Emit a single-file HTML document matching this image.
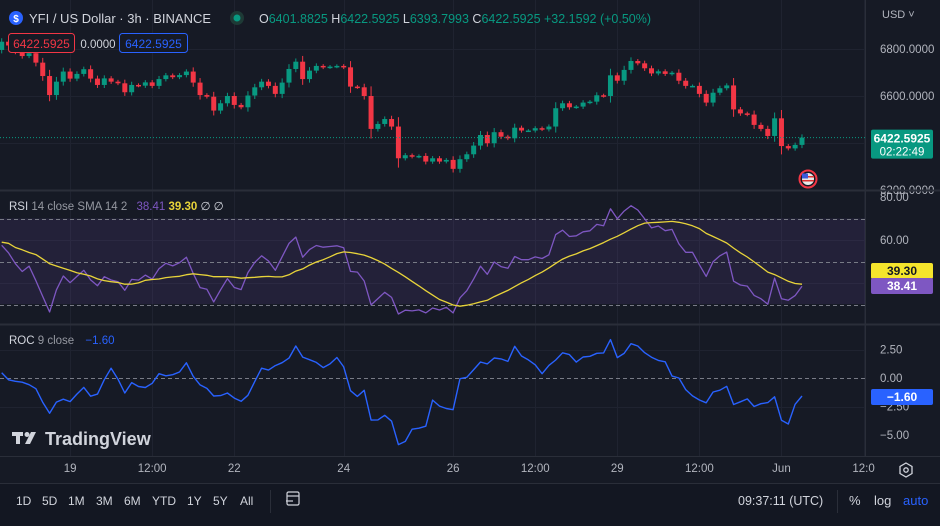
<!DOCTYPE html>
<html><head><meta charset="utf-8">
<style>
*{margin:0;padding:0;box-sizing:border-box}
body{width:940px;height:521px;background:#131722;overflow:hidden;font-family:"Liberation Sans",sans-serif;position:relative}
svg text{font-family:"Liberation Sans",sans-serif}
</style></head>
<body>
<svg id="chart" width="940" height="521" viewBox="0 0 940 521" xmlns="http://www.w3.org/2000/svg">
<rect x="0" y="0" width="940" height="521" fill="#161a25"/>
<g id="grid"></g>
<rect x="0" y="218.5" width="865" height="85.5" fill="#7e57c2" opacity="0.13"/>
<g id="bands"></g>
<g id="candles"></g>
<g id="rsi"></g>
<g id="roc"></g>
<g id="axes"></g>
<line x1="0" y1="190.5" x2="940" y2="190.5" stroke="#2a2e39" stroke-width="2"/>
<line x1="0" y1="324.5" x2="940" y2="324.5" stroke="#2a2e39" stroke-width="2"/>
<line x1="0" y1="456.5" x2="940" y2="456.5" stroke="#2a2e39"/>
<line x1="865.5" y1="0" x2="865.5" y2="456" stroke="#2a2e39"/>
<rect x="0" y="483" width="940" height="38" fill="#131722"/>
<line x1="0" y1="483.5" x2="940" y2="483.5" stroke="#2a2e39"/>

<g>
<circle cx="16" cy="18" r="7" fill="#2962ff"/>
<text x="16" y="22" font-size="10" fill="#fff" text-anchor="middle" font-weight="bold">$</text>
<text x="29" y="23" font-size="13" fill="#d1d4dc">YFI / US Dollar · 3h · BINANCE</text>
<circle cx="237" cy="18" r="7" fill="#1e3a36"/><circle cx="237" cy="18" r="3.5" fill="#089981"/>
<text x="259" y="23" font-size="12.5" fill="#089981"><tspan fill="#d1d4dc">O</tspan>6401.8825 <tspan fill="#d1d4dc">H</tspan>6422.5925 <tspan fill="#d1d4dc">L</tspan>6393.7993 <tspan fill="#d1d4dc">C</tspan>6422.5925 +32.1592 (+0.50%)</text>
<rect x="8.5" y="33.5" width="66" height="19" rx="3" fill="#161a25" stroke="#f23645"/>
<text x="41.5" y="48" font-size="12" fill="#f23645" text-anchor="middle">6422.5925</text>
<text x="98" y="48" font-size="11.5" fill="#d1d4dc" text-anchor="middle">0.0000</text>
<rect x="119.5" y="33.5" width="68" height="19" rx="3" fill="#161a25" stroke="#2962ff"/>
<text x="153.5" y="48" font-size="12" fill="#2962ff" text-anchor="middle">6422.5925</text>
</g>
<text x="882" y="18" font-size="11" fill="#b2b5be">USD ˅</text>

<text x="9" y="210" font-size="11.5" fill="#d1d4dc">RSI <tspan fill="#9598a1">14 close SMA 14 2</tspan> <tspan fill="#7e57c2" dx="6">38.41</tspan> <tspan fill="#e8d43a" font-weight="bold">39.30</tspan> <tspan fill="#d1d4dc">∅ ∅</tspan></text>
<text x="9" y="344" font-size="11.5" fill="#d1d4dc">ROC <tspan fill="#9598a1">9 close</tspan> <tspan fill="#2962ff" dx="8">−1.60</tspan></text>

<g>
<rect x="12" y="432" width="11" height="4" fill="#d1d4dc"/><rect x="16" y="432" width="4" height="12" fill="#d1d4dc"/>
<circle cx="27" cy="434.5" r="2.5" fill="#d1d4dc"/><polygon points="31,432 36,432 30,444 25,444" fill="#d1d4dc"/>
<text x="45" y="445" font-size="18" fill="#d1d4dc" font-weight="bold">TradingView</text>
</g>

<g>
<circle cx="808" cy="179" r="8.5" fill="#161a25" stroke="#f23645" stroke-width="2"/>
<circle cx="808" cy="179" r="6" fill="#e8e8e8"/>
<rect x="802" y="176" width="12" height="1.5" fill="#d33"/><rect x="802" y="180" width="12" height="1.5" fill="#d33"/>
<rect x="802" y="173.5" width="6" height="5" fill="#3b5bdb"/>
</g>

<g font-size="12" fill="#d1d4dc">
<text x="16" y="505">1D</text>
<text x="42" y="505">5D</text>
<text x="68" y="505">1M</text>
<text x="96" y="505">3M</text>
<text x="124" y="505">6M</text>
<text x="152" y="505">YTD</text>
<text x="187" y="505">1Y</text>
<text x="213" y="505">5Y</text>
<text x="240" y="505">All</text>
</g>
<line x1="270.5" y1="490" x2="270.5" y2="513" stroke="#2a2e39"/>
<g stroke="#d1d4dc" fill="none" stroke-width="1.2">
<rect x="287" y="492" width="12" height="13" rx="1.5"/><line x1="287" y1="496" x2="299" y2="496"/><line x1="286" y1="501" x2="293" y2="501"/>
</g>
<text x="738" y="505" font-size="12.5" fill="#d1d4dc">09:37:11 (UTC)</text>
<line x1="837.5" y1="490" x2="837.5" y2="513" stroke="#2a2e39"/>
<text x="849" y="505" font-size="13" fill="#d1d4dc">%</text>
<text x="874" y="505" font-size="13" fill="#d1d4dc">log</text>
<text x="903" y="505" font-size="13" fill="#2962ff">auto</text>
<g><polygon points="906,463 912,466.5 912,473.5 906,477 900,473.5 900,466.5" fill="none" stroke="#d1d4dc" stroke-width="1.3"/><circle cx="906" cy="470" r="2.2" fill="none" stroke="#d1d4dc" stroke-width="1.3"/></g>
<g id="labels"></g>
</svg>
<script>
const NS='http://www.w3.org/2000/svg';
// ---- data ----
const preCloses=[6790,6812,6798,6822,6805,6818,6800,6826,6810,6795,6822,6806,6830,6815,6805];
const firstOpen=6796;
const closes=[6831,6815,6790,6770,6782,6742,6685,6604,6661,6704,6674,6694,6714,6674,6647,6675,6661,6654,6616,6647,6644,6658,6643,6672,6688,6680,6689,6704,6657,6604,6597,6538,6569,6600,6562,6552,6602,6637,6661,6643,6609,6657,6715,6746,6672,6708,6728,6722,6725,6728,6722,6640,6637,6600,6460,6481,6502,6470,6335,6348,6342,6345,6321,6335,6321,6328,6290,6331,6352,6389,6434,6399,6446,6427,6420,6465,6453,6453,6463,6458,6470,6548,6569,6552,6555,6572,6576,6603,6600,6688,6665,6711,6749,6739,6718,6696,6705,6694,6699,6665,6643,6643,6609,6572,6614,6633,6645,6543,6526,6521,6477,6460,6430,6505,6387,6377,6392,6423];
const timeLabels=['19','12:00','22','24','26','12:00','29','12:00','Jun','12:0'];
const timeLabelIdx=[10,22,34,50,66,78,90,102,114,126];
const priceTicks=[6800,6600,6200];
const priceTickLabels=['6800.0000','6600.0000','6200.0000'];
const rsiTicks=[80,60];
const rocTicks=[2.5,0,-2.5,-5];
const rocTickLabels=['2.50','0.00','−2.50','−5.00'];
// ---- axes ----
const X0=1.7, DX=6.84;
const xAt=i=>X0+i*DX;
const yPrice=p=>49+(6800-p)*47/200;
const yRsi=v=>197+(80-v)*2.15;
const yRoc=v=>378-v*11.4;
function el(tag,attrs,parent){const e=document.createElementNS(NS,tag);for(const k in attrs)e.setAttribute(k,attrs[k]);parent.appendChild(e);return e;}
const G=id=>document.getElementById(id);
const grid=G('grid');
timeLabelIdx.forEach(i=>{const x=Math.round(xAt(i))+0.5;const l=el('line',{x1:x,y1:0,x2:x,y2:456,stroke:'#1f2330'},grid);

});
[6800,6600,6400].forEach(p=>{const y=Math.round(yPrice(p))+0.5;const l=el('line',{x1:0,y1:y,x2:865,y2:y,stroke:'#1f2330'},grid);

});
[60,40].forEach(v=>{const y=Math.round(yRsi(v))+0.5;el('line',{x1:0,y1:y,x2:865,y2:y,stroke:'#1f2330'},grid);});
[2.5,-2.5].forEach(v=>{const y=Math.round(yRoc(v))+0.5;el('line',{x1:0,y1:y,x2:865,y2:y,stroke:'#1f2330'},grid);});
const bands=G('bands');
[70,50,30].forEach(v=>{const y=Math.round(yRsi(v))+0.5;const l=el('line',{x1:0,y1:y,x2:865,y2:y,stroke:'#787b86','stroke-dasharray':'4 3'},bands);

});
{const y=Math.round(yRoc(0))+0.5;const l=el('line',{x1:0,y1:y,x2:865,y2:y,stroke:'#787b86','stroke-dasharray':'4 3'},bands);

}
// candles
const cg=G('candles');
closes.forEach((c,i)=>{const o=i===0?firstOpen:closes[i-1];const up=c>=o;const col=up?'#089981':'#f23645';const x=xAt(i);
const span=Math.abs(c-o);
const hi=Math.max(o,c)+6+span*0.25, lo=Math.min(o,c)-6-span*0.25;
const w=el('line',{x1:x,y1:yPrice(hi),x2:x,y2:yPrice(lo),stroke:col,'stroke-width':1},cg);


const yt=yPrice(Math.max(o,c)),yb=yPrice(Math.min(o,c));
const b=el('rect',{x:x-2.5,y:yt,width:5,height:Math.max(1.5,yb-yt),fill:col},cg);

});
{const y=yPrice(closes[closes.length-1]);const l=el('line',{x1:0,y1:y,x2:865,y2:y,stroke:'#089981','stroke-dasharray':'1 2'},cg);

}
// indicators
const all=preCloses.concat(closes);const P=preCloses.length;
const rsiAll=[];let ag=0,al=0;
for(let i=1;i<all.length;i++){const d=all[i]-all[i-1];const g=Math.max(d,0),l=Math.max(-d,0);
if(i<=14){ag+=g/14;al+=l/14;}else{ag=(ag*13+g)/14;al=(al*13+l)/14;}
rsiAll[i]=al===0?100:100-100/(1+ag/al);}
const rsiVals=closes.map((c,i)=>rsiAll[i+P]);
const smaVals=rsiVals.map((v,i)=>{let s=0,n=0;for(let k=0;k<14;k++){const j=i+P-k;if(rsiAll[j]!==undefined){s+=rsiAll[j];n++;}}return s/n;});
const rocVals=closes.map((c,i)=>{const p=all[i+P-9];return (c-p)/p*100;});
function poly(vals,fy,col,name,parent,w){const pts=vals.map((v,i)=>xAt(i).toFixed(1)+','+fy(v).toFixed(1)).join(' ');
const p=el('polyline',{points:pts,fill:'none',stroke:col,'stroke-width':w||1.3,'stroke-linejoin':'round'},parent);

}
poly(rsiVals,yRsi,'#7e57c2','rsi-line',G('rsi'));
poly(smaVals,yRsi,'#e8d43a','rsi-sma-line',G('rsi'));
poly(rocVals,yRoc,'#2962ff','roc-line',G('roc'),1.4);
const ax=G('axes');
priceTicks.forEach((p,i)=>{const t=el('text',{x:880,y:yPrice(p)+4,'font-size':11.5,fill:'#b2b5be'},ax);t.textContent=priceTickLabels[i];

});
rsiTicks.forEach(v=>{const t=el('text',{x:880,y:yRsi(v)+4,'font-size':11.5,fill:'#b2b5be'},ax);t.textContent=v.toFixed(2);

});
rocTicks.forEach((v,i)=>{const t=el('text',{x:880,y:yRoc(v)+4,'font-size':11.5,fill:'#b2b5be'},ax);t.textContent=rocTickLabels[i];

});
timeLabelIdx.forEach((i,k)=>{const t=el('text',{x:xAt(i),y:472,'font-size':11.5,fill:'#b2b5be','text-anchor':'middle'},ax);t.textContent=timeLabels[k];

});
const lb=G('labels');
function tag(y,bg,fg,txt,name){const r=el('rect',{x:871,y:y-8,width:62,height:16,rx:2,fill:bg},lb);


const t=el('text',{x:902,y:y+4,'font-size':12,fill:fg,'text-anchor':'middle','font-weight':'bold'},lb);t.textContent=txt;}
{const y=yPrice(closes[closes.length-1]);const r=el('rect',{x:871,y:y-8,width:62,height:29,rx:2,fill:'#089981'},lb);


const t=el('text',{x:902,y:y+5,'font-size':12,fill:'#fff','text-anchor':'middle','font-weight':'bold'},lb);t.textContent='6422.5925';
const t2=el('text',{x:902,y:y+18,'font-size':11.5,fill:'#fff','text-anchor':'middle'},lb);t2.textContent='02:22:49';}
tag(271,'#f5e52c','#131722','39.30','rsi-sma-value-tag');
tag(286,'#7e57c2','#fff','38.41','rsi-value-tag');
tag(397,'#2962ff','#fff','−1.60','roc-value-tag');
</script>
</body></html>
